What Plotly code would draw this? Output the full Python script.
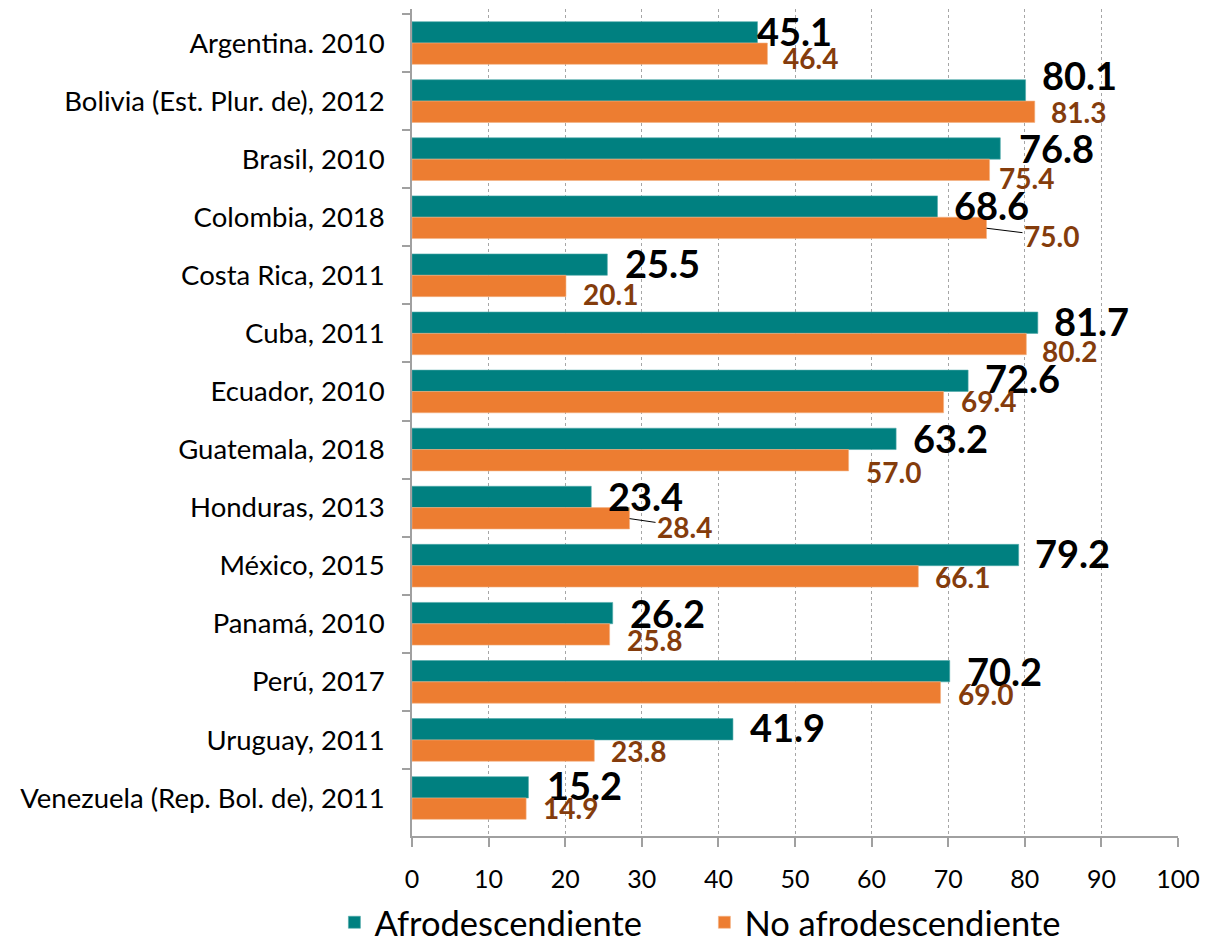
import plotly.graph_objects as go

# ---------------- data ----------------
categories = [
    "Argentina. 2010",
    "Bolivia (Est. Plur. de), 2012",
    "Brasil, 2010",
    "Colombia, 2018",
    "Costa Rica, 2011",
    "Cuba, 2011",
    "Ecuador, 2010",
    "Guatemala, 2018",
    "Honduras, 2013",
    "México, 2015",
    "Panamá, 2010",
    "Perú, 2017",
    "Uruguay, 2011",
    "Venezuela (Rep. Bol. de), 2011",
]
afro = [45.1, 80.1, 76.8, 68.6, 25.5, 81.7, 72.6, 63.2, 23.4, 79.2, 26.2, 70.2, 41.9, 15.2]
no_afro = [46.4, 81.3, 75.4, 75.0, 20.1, 80.2, 69.4, 57.0, 28.4, 66.1, 25.8, 69.0, 23.8, 14.9]
x_ticks = [0, 10, 20, 30, 40, 50, 60, 70, 80, 90, 100]
series_names = ["Afrodescendiente", "No afrodescendiente"]

# ---------------- styling / label nudges (pixels) ----------------
TEAL = "#008080"
ORANGE = "#ED7D31"
BROWN = "#843C0C"
FONT = "Lato"

afro_dx = [0, 16, 19, 17, 18, 16, 17, 17, 17, 16, 17, 17, 17, 19]
afro_dy = [2, -12, 3, 2, 2, 2, 1, 2, 2, 1, 3, 3, 1, 1]
noafro_dx = [16, 16, 9, 37, 17, 16, 17, 17, 27, 17, 17, 17, 17, 17]
noafro_dy = [6, 2, 10, 6, 10, 9, 1, 13, 6, 2, 7, 3, 2, 1]
leader = [False, False, False, True, False, False, False, False, True, False, False, False, False, False]

BAR_HALF = 11  # px offset of each bar centre from the category centre

fig = go.Figure()
fig.add_trace(go.Bar(
    y=categories, x=afro, orientation="h", name=series_names[0],
    marker=dict(color=TEAL, line=dict(color="#4FA9A9", width=0.6)),
))
fig.add_trace(go.Bar(
    y=categories, x=no_afro, orientation="h", name=series_names[1],
    marker=dict(color=ORANGE, line=dict(color="#F4B183", width=0.6)),
))

annotations = []
for i, cat in enumerate(categories):
    annotations.append(dict(
        x=afro[i], y=cat, xref="x", yref="y",
        text=f"{afro[i]:.1f}", showarrow=False,
        xanchor="left", yanchor="middle",
        xshift=afro_dx[i] - 2, yshift=BAR_HALF - afro_dy[i] + 3,
        font=dict(family=FONT, size=38, color="black", weight="bold"),
    ))
    if leader[i]:
        annotations.append(dict(
            x=no_afro[i], y=cat, xref="x", yref="y",
            text=f"{no_afro[i]:.1f}", showarrow=True,
            arrowhead=0, arrowwidth=1, arrowcolor="black",
            ax=noafro_dx[i] + 28, ay=noafro_dy[i] + 2,
            yshift=-BAR_HALF,
            font=dict(family=FONT, size=28, color=BROWN, weight="bold"),
        ))
    else:
        annotations.append(dict(
            x=no_afro[i], y=cat, xref="x", yref="y",
            text=f"{no_afro[i]:.1f}", showarrow=False,
            xanchor="left", yanchor="middle",
            xshift=noafro_dx[i] - 2, yshift=-BAR_HALF - noafro_dy[i] + 2,
            font=dict(family=FONT, size=28, color=BROWN, weight="bold"),
        ))

fig.update_layout(
    width=1216, height=945,
    margin=dict(l=412, r=38, t=9, b=109, autoexpand=False),
    paper_bgcolor="white", plot_bgcolor="white",
    barmode="group", bargap=0.265, bargroupgap=0,
    font=dict(family=FONT, color="black"),
    annotations=annotations,
    showlegend=True,
    legend=dict(
        orientation="h", xref="container", yref="container",
        x=0.275, xanchor="left", y=0.024, yanchor="middle",
        font=dict(family=FONT, size=34.5, color="black"),
        entrywidth=325, traceorder="normal",
    ),
)
fig.update_xaxes(
    range=[0, 100], tickmode="array", tickvals=x_ticks,
    ticktext=[str(v) for v in x_ticks],
    showgrid=True, gridcolor="#A6A6A6", gridwidth=1, griddash="3px,3px",
    zeroline=False, showline=True, linecolor="#A0A0A0", linewidth=1.5,
    ticks="outside", ticklen=9, tickcolor="#A0A0A0", tickwidth=1.5,
    tickfont=dict(family=FONT, size=25, color="black"),
    ticklabelstandoff=11,
)
fig.update_yaxes(
    autorange="reversed", categoryorder="array", categoryarray=categories,
    showgrid=False, zeroline=False, showline=True, linecolor="#A0A0A0", linewidth=1.5,
    ticks="outside", ticklen=8, tickcolor="#A0A0A0", tickwidth=1.5, tickson="boundaries",
    tickfont=dict(family=FONT, size=27.5, color="black"),
    ticklabelstandoff=20,
)

fig.write_html(
    "out.html",
    config={"displayModeBar": False},
    post_script="document.body.style.margin='0';",
)
